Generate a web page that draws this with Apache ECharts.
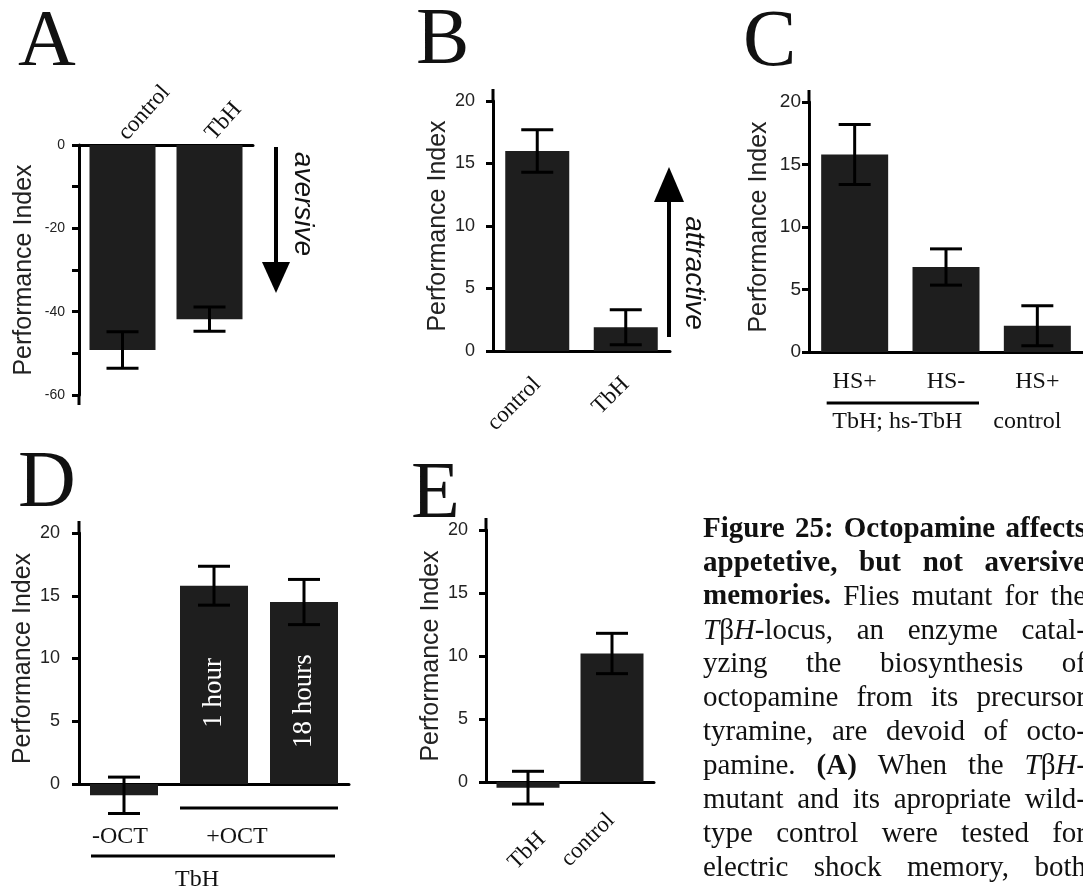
<!DOCTYPE html>
<html>
<head>
<meta charset="utf-8">
<script src="https://cdn.jsdelivr.net/npm/echarts@6/dist/echarts.min.js"></script>
<style>
  html, body { margin: 0; padding: 0; background: #fff; }
  #chart { width: 1083px; height: 894px; }
</style>
</head>
<body>
<div id="chart"></div>
<script>
// panel data
const aCats = ['control', 'TbH'];
const aVals = [-49.2, -41.8];
const aErrs = [4.4, 2.9];

const bCats = ['control', 'TbH'];
const bVals = [16.0, 1.9];
const bErrs = [1.7, 1.4];

const cCats = ['HS+', 'HS-', 'HS+'];
const cVals = [15.8, 6.8, 2.1];
const cErrs = [2.4, 1.45, 1.6];

const dCats = ['-OCT', '1 hour', '18 hours'];
const dVals = [-0.9, 15.8, 14.5];
const dErrs = [1.45, 1.55, 1.8];
const dInside = ['', '1 hour', '18 hours'];

const eCats = ['TbH', 'control'];
const eVals = [-0.45, 10.2];
const eErrs = [1.3, 1.6];

const SANS = '"Liberation Sans", Arial, sans-serif';
const SERIF = '"Liberation Serif", "Times New Roman", serif';
const BAR = '#1e1e1e';
const INK = '#000';

const grids = [
  { left: 79, top: 145, width: 174, height: 250 },  // A
  { left: 493, top: 101, width: 177, height: 250 }, // B
  { left: 809, top: 102, width: 274, height: 250 }, // C
  { left: 79, top: 533, width: 270, height: 251 },  // D
  { left: 486, top: 530, width: 168, height: 252 }, // E
];

const panels = [
  { cats: aCats, vals: aVals, errs: aErrs, barWidth: 66, min: -60, max: 0, interval: 10, every: 20,
    tickFont: 14, tickMargin: 14, nameGap: 42, xPos: 'top',
    xLabel: { show: true, rotate: 48, margin: 8, fontSize: 23 } },
  { cats: bCats, vals: bVals, errs: bErrs, barWidth: 64, min: 0, max: 20, interval: 5, every: 5,
    tickFont: 18, tickMargin: 18, nameGap: 39, xPos: 'bottom',
    xLabel: { show: true, rotate: 45, margin: 30, fontSize: 23 } },
  { cats: cCats, vals: cVals, errs: cErrs, barWidth: 67, min: 0, max: 20, interval: 5, every: 5,
    tickFont: 19, tickMargin: 8, nameGap: 37, xPos: 'bottom',
    xLabel: { show: true, rotate: 0, margin: 18, fontSize: 24 } },
  { cats: dCats, vals: dVals, errs: dErrs, barWidth: 68, min: 0, max: 20, interval: 5, every: 5,
    tickFont: 18, tickMargin: 19, nameGap: 41, xPos: 'bottom',
    xLabel: { show: false } },
  { cats: eCats, vals: eVals, errs: eErrs, barWidth: 63, min: 0, max: 20, interval: 5, every: 5,
    tickFont: 18, tickMargin: 18, nameGap: 41, xPos: 'bottom',
    xLabel: { show: false } },
];

const errRender = (params, api) => {
  const k = api.value(0);
  const top = api.coord([k, api.value(2)]);
  const bot = api.coord([k, api.value(1)]);
  const w = 16;
  const st = { stroke: INK, lineWidth: 3 };
  return {
    type: 'group',
    children: [
      { type: 'line', shape: { x1: top[0], y1: top[1], x2: bot[0], y2: bot[1] }, style: st },
      { type: 'line', shape: { x1: top[0] - w, y1: top[1], x2: top[0] + w, y2: top[1] }, style: st },
      { type: 'line', shape: { x1: bot[0] - w, y1: bot[1], x2: bot[0] + w, y2: bot[1] }, style: st },
    ],
  };
};

const xAxes = [], yAxes = [], series = [];
panels.forEach((p, i) => {
  xAxes.push({
    gridIndex: i, type: 'category', data: p.cats, position: p.xPos,
    axisLine: { lineStyle: { color: INK, width: 3 } },
    axisTick: { show: false },
    axisLabel: { show: p.xLabel.show, rotate: p.xLabel.rotate, margin: p.xLabel.margin,
      fontSize: p.xLabel.fontSize, fontFamily: SERIF, color: '#111', interval: 0 },
  });
  yAxes.push({
    gridIndex: i, type: 'value', min: p.min, max: p.max, interval: p.interval,
    axisLine: { show: true, lineStyle: { color: INK, width: 3 } },
    axisTick: { show: true, length: 7, lineStyle: { color: INK, width: 3 } },
    axisLabel: { fontSize: p.tickFont, fontFamily: SANS, color: '#222', margin: p.tickMargin,
      formatter: (v) => (v % p.every === 0 ? String(v) : '') },
    splitLine: { show: false },
    name: 'Performance Index', nameLocation: 'middle', nameGap: p.nameGap,
    nameTextStyle: { fontFamily: SANS, fontSize: 25, color: '#222' },
  });
  series.push({
    type: 'bar', xAxisIndex: i, yAxisIndex: i, data: p.vals, barWidth: p.barWidth,
    itemStyle: { color: BAR }, clip: false, z: 2,
    label: i === 3 ? {
      // offset is in the rotated frame: -x pushes the text down the bar
      show: true, position: 'inside', rotate: 90, offset: [-8, 0], color: '#fff', fontFamily: SERIF, fontSize: 27,
      formatter: (q) => dInside[q.dataIndex],
    } : { show: false },
  });
  series.push({
    type: 'custom', xAxisIndex: i, yAxisIndex: i, renderItem: errRender, clip: false, z: 3,
    encode: { x: 0, y: [1, 2] },
    data: p.vals.map((v, k) => [k, +(v - p.errs[k]).toFixed(2), +(v + p.errs[k]).toFixed(2)]),
  });
});

const chart = echarts.init(document.getElementById('chart'), null, { renderer: 'canvas' });
chart.setOption({
  animation: false,
  backgroundColor: '#fff',
  grid: grids.map((g) => ({ ...g, containLabel: false, outerBoundsMode: 'none' })),
  xAxis: xAxes,
  yAxis: yAxes,
  series,
});

// decorations placed from the axes
const px = (i, k, v) => chart.convertToPixel({ gridIndex: i }, [k, v]);
const line = (x1, y1, x2, y2, w = 3) => ({
  type: 'line', shape: { x1, y1, x2, y2 }, style: { stroke: INK, lineWidth: w }, z: 10,
});
const text = (t, x, y, font, opt = {}) => ({
  type: 'text', x, y, rotation: opt.rot || 0, z: 10,
  style: { text: t, font, fill: opt.fill || '#111', textAlign: opt.align || 'center',
    textVerticalAlign: 'middle' },
});

const g = [];

// y axes run a little past their last tick
panels.forEach((p, i) => {
  const x = grids[i].left;
  if (i === 0) {
    const yb = px(0, 0, p.min)[1];
    g.push(line(x, yb, x, yb + 10));
  } else {
    const yt = px(i, 0, p.max)[1];
    g.push(line(x, yt, x, yt - 12));
  }
});

// panel letters
const LETTER = '80px ' + SERIF;
g.push(text('A', 18, 44, LETTER, { align: 'left' }));
g.push(text('B', 416, 42, LETTER, { align: 'left' }));
g.push(text('C', 743, 44, LETTER, { align: 'left' }));
g.push(text('D', 18, 485, LETTER, { align: 'left' }));
g.push(text('E', 411, 496, LETTER, { align: 'left' }));

// A: aversive arrow
g.push(line(276, 147, 276, 266, 4));
g.push({ type: 'polygon', shape: { points: [[262, 262], [290, 262], [276, 293]] }, style: { fill: INK }, z: 10 });
g.push(text('aversive', 303, 204, 'italic 28px ' + SANS, { rot: -Math.PI / 2 }));

// B: attractive arrow
g.push(line(669, 337, 669, 198, 4));
g.push({ type: 'polygon', shape: { points: [[654, 202], [684, 202], [669, 167]] }, style: { fill: INK }, z: 10 });
g.push(text('attractive', 694, 273, 'italic 28px ' + SANS, { rot: -Math.PI / 2 }));

// C: genotype grouping under the bars
{
  const y0 = px(2, 0, 0)[1];
  const c0 = px(2, 0, 0)[0], c1 = px(2, 1, 0)[0], c2 = px(2, 2, 0)[0];
  g.push(line(c0 - 28, y0 + 51, c1 + 33, y0 + 51));
  g.push(text('TbH; hs-TbH', (c0 + c1) / 2 - 3, y0 + 70, '24px ' + SERIF));
  g.push(text('control', c2 - 10, y0 + 70, '24px ' + SERIF));
}

// D: treatment grouping under the bars
{
  const y0 = px(3, 0, 0)[1];
  const c0 = px(3, 0, 0)[0], c1 = px(3, 1, 0)[0], c2 = px(3, 2, 0)[0];
  const hw = panels[3].barWidth / 2;
  g.push(line(c1 - hw, y0 + 24, c2 + hw, y0 + 24));
  g.push(line(c0 - hw + 1, y0 + 72, c2 + hw - 3, y0 + 72));
  g.push(text('-OCT', c0 - 4, y0 + 53, '24px ' + SERIF));
  g.push(text('+OCT', (c1 + c2) / 2 - 22, y0 + 53, '24px ' + SERIF));
  g.push(text('TbH', (c0 + c2) / 2 - 17, y0 + 96, '24px ' + SERIF));
}

// E: slanted category names, set lower than the axis would put them
{
  const y0 = px(4, 0, 0)[1];
  const c0 = px(4, 0, 0)[0], c1 = px(4, 1, 0)[0];
  g.push(text(eCats[0], c0 - 1, y0 + 69, '23px ' + SERIF, { rot: Math.PI / 4 }));
  g.push(text(eCats[1], c1 - 24, y0 + 58, '23px ' + SERIF, { rot: Math.PI / 4 }));
}

// caption, justified word by word
const capLines = [
  '*Figure 25: Octopamine affects*',
  '*appetetive, but not aversive*',
  '*memories.* Flies mutant for the',
  '_T_β_H_-locus, an enzyme catal-',
  'yzing the biosynthesis of',
  'octopamine from its precursor',
  'tyramine, are devoid of octo-',
  'pamine. *(A)* When the _T_β_H_-',
  'mutant and its apropriate wild-',
  'type control were tested for',
  'electric shock memory, both',
];
const CAP_SIZE = 29, CAP_L = 703, CAP_R = 1086, CAP_BASE = 539, CAP_STEP = 33.9;
const fontOf = (s) => (s.i ? 'italic ' : '') + (s.b ? 'bold ' : '') + CAP_SIZE + 'px ' + SERIF;
const mctx = document.createElement('canvas').getContext('2d');
const measure = (s) => { mctx.font = fontOf(s); return mctx.measureText(s.t).width; };

function parseLine(src) {
  const words = [];
  let word = [], buf = '', b = false, it = false;
  const flush = () => { if (buf) { word.push({ t: buf, b, i: it }); buf = ''; } };
  for (const ch of src) {
    if (ch === '*') { flush(); b = !b; }
    else if (ch === '_') { flush(); it = !it; }
    else if (ch === ' ') { flush(); if (word.length) words.push(word); word = []; }
    else buf += ch;
  }
  flush();
  if (word.length) words.push(word);
  return words;
}

capLines.forEach((src, li) => {
  const words = parseLine(src);
  const widths = words.map((w) => w.reduce((s, seg) => s + measure(seg), 0));
  const total = widths.reduce((a, b) => a + b, 0);
  const gap = words.length > 1 ? (CAP_R - CAP_L - total) / (words.length - 1) : 0;
  const y = CAP_BASE + li * CAP_STEP - 0.3375 * CAP_SIZE;
  let x = CAP_L;
  words.forEach((w, wi) => {
    let sx = x;
    w.forEach((seg) => {
      g.push({ type: 'text', x: sx, y, z: 10,
        style: { text: seg.t, font: fontOf(seg), fill: '#111', textAlign: 'left', textVerticalAlign: 'middle' } });
      sx += measure(seg);
    });
    x += widths[wi] + gap;
  });
});

chart.setOption({ graphic: g });
</script>
</body>
</html>
